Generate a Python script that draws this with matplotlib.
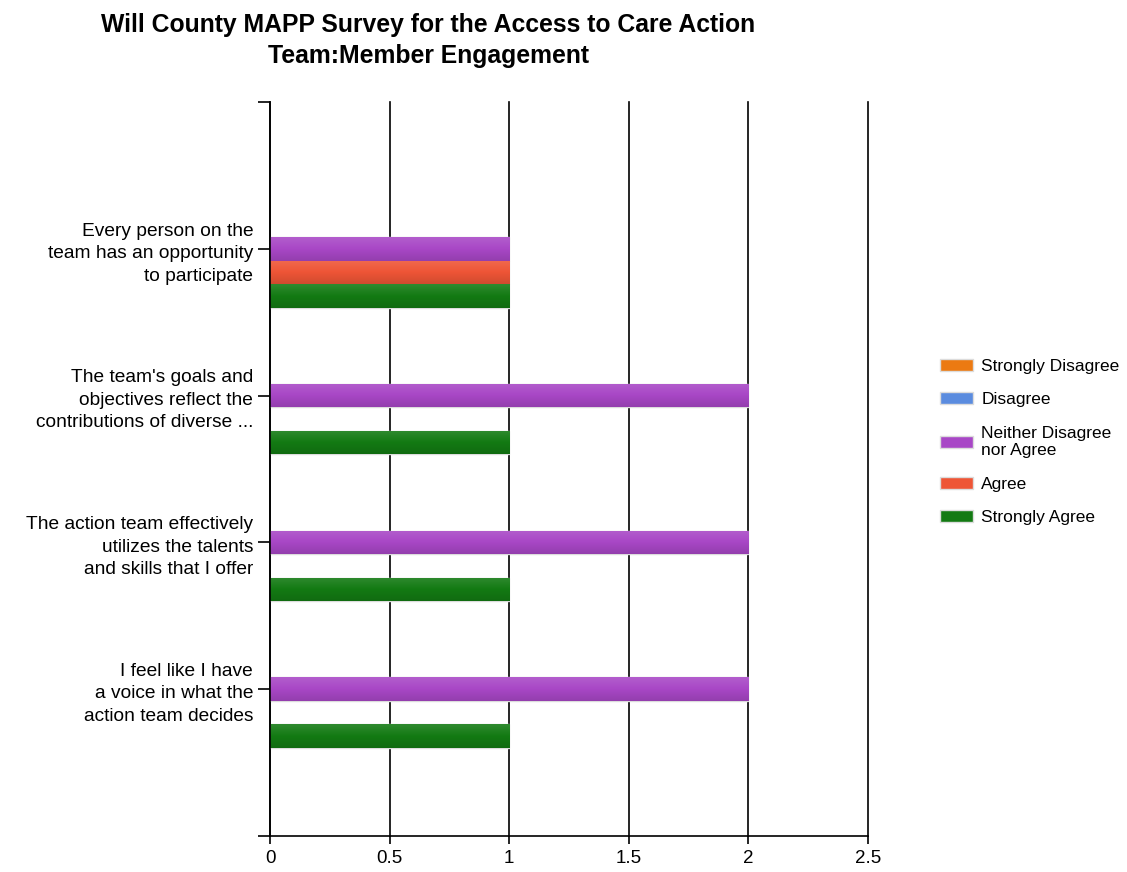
import numpy as np
import matplotlib
matplotlib.use("Agg")
import matplotlib.pyplot as plt
from matplotlib.colors import to_rgb

plt.rcParams['font.family'] = ['Liberation Sans', 'DejaVu Sans']

# survey questions, top to bottom
questions = [
    "Every person on the\nteam has an opportunity\nto participate",
    "The team's goals and\nobjectives reflect the\ncontributions of diverse ...",
    "The action team effectively\nutilizes the talents\nand skills that I offer",
    "I feel like I have\na voice in what the\naction team decides",
]
responses = ["Strongly Disagree", "Disagree", "Neither Disagree\nnor Agree",
             "Agree", "Strongly Agree"]

strongly_disagree = [0, 0, 0, 0]
disagree = [0, 0, 0, 0]
neither = [1, 2, 2, 2]
agree = [1, 0, 0, 0]
strongly_agree = [1, 1, 1, 1]

colors = ["#EC7A12", "#5B8CDF", "#A847C6", "#EE5536", "#137A13"]

fig = plt.figure(figsize=(11.27, 8.72), dpi=100)
ax = fig.add_axes([0.2396, 0.0413, 0.5306, 0.8417])

pos = np.arange(1, len(questions) + 1)
h = 0.16
series = [strongly_disagree, disagree, neither, agree, strongly_agree]


def shade(c, f):
    r, g, b = to_rgb(c)
    if f > 0:
        return (r + (1 - r) * f, g + (1 - g) * f, b + (1 - b) * f)
    return (r * (1 + f), g * (1 + f), b * (1 + f))


for i, (vals, col) in enumerate(zip(series, colors)):
    bars = ax.barh(pos + (i - 2) * h, vals, height=h, color=col,
                   edgecolor="#dcdcdc", linewidth=[1 if v else 0 for v in vals],
                   zorder=3)
    # vertical gradient on every bar
    grad = np.array([shade(col, f) for f in np.linspace(0.12, -0.12, 32)])
    grad = grad.reshape(32, 1, 3)
    for b in bars:
        if b.get_width() == 0:
            b.set_visible(False)
            continue
        x0, y0 = b.get_x(), b.get_y()
        im = ax.imshow(grad, extent=(x0, x0 + b.get_width(), y0 + b.get_height(), y0),
                       aspect="auto", zorder=3.5, interpolation="bilinear")
        im.set_clip_path(b)

ax.set_xlim(0, 2.5)
ax.set_ylim(5, 0)
ax.set_xticks([0, 0.5, 1, 1.5, 2, 2.5])
ax.set_xticklabels(["0", "0.5", "1", "1.5", "2", "2.5"])
ax.set_yticks([0, 1, 2, 3, 4, 5])
ax.set_yticklabels([""] + questions + [""], ha="right", linespacing=1.42)
ax.tick_params(axis="both", labelsize=13.5, colors="black", width=1.2, length=8.6,
               direction="out", pad=3.5)
ax.tick_params(axis="y", labelsize=13.8)
ax.tick_params(axis="x", length=5.5, pad=4.5)
ax.xaxis.grid(True, color="black", linewidth=1.2, zorder=1)
for gl in ax.get_xgridlines():
    gl.set_clip_on(False)
ax.set_axisbelow(True)
for s in ["top", "right"]:
    ax.spines[s].set_visible(False)
for s in ["left", "bottom"]:
    ax.spines[s].set_linewidth(1.2)
    ax.spines[s].set_zorder(5)

fig.text(428 / 1127, 1 - 13 / 872,
         "Will County MAPP Survey for the Access to Care Action\nTeam:Member Engagement",
         ha="center", va="top", fontsize=17.8, fontweight="bold", linespacing=1.38)

handles = [plt.Rectangle((0, 0), 1, 1, facecolor=c, edgecolor="#dcdcdc", linewidth=1)
           for c in colors]
fig.legend(handles, responses, loc="upper left",
           bbox_to_anchor=(924 / 1127, 1 - 343 / 872), frameon=False,
           fontsize=12.5, handlelength=1.95, handleheight=0.7, labelspacing=1.06,
           handletextpad=0.45)

fig.savefig("out.png", dpi=100)
